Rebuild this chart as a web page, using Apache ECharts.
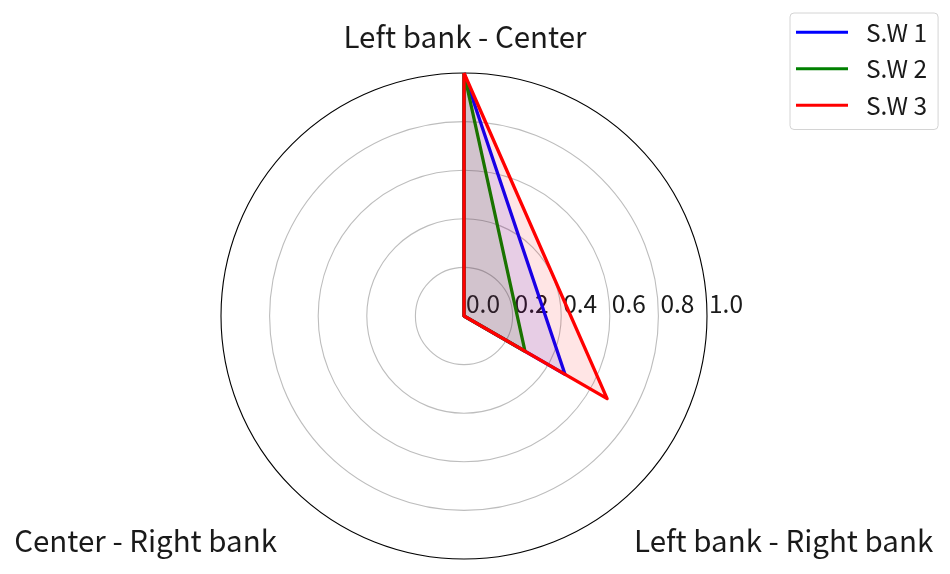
<!DOCTYPE html>
<html>
<head>
<meta charset="utf-8">
<script src="https://cdn.jsdelivr.net/npm/echarts@6/dist/echarts.min.js"></script>
<style>
html,body{margin:0;padding:0;background:#fff;}
#chart{width:950px;height:574px;}
</style>
</head>
<body>
<div id="chart"></div>
<script>
const categories = ['Left bank - Center', 'Center - Right bank', 'Left bank - Right bank'];
const seriesNames = ['S.W 1', 'S.W 2', 'S.W 3'];
const sw1 = [1.0, 0.0, 0.48];
const sw2 = [1.0, 0.0, 0.29];
const sw3 = [1.0, 0.0, 0.68];
const radialTicks = [0.0, 0.2, 0.4, 0.6, 0.8, 1.0];
const colors = ['#0000ff', '#008000', '#ff0000'];

const FONT = '"Noto Sans CJK KR", "Noto Sans", sans-serif';
const CX = 464, CY = 316, R = 243;
const NAME_FS = 29.5, TICK_FS = 24.5;

const nameKeys = ['top', 'bl', 'br'];
const chart = echarts.init(document.getElementById('chart'), null, {renderer: 'canvas'});
const values = [sw1, sw2, sw3];

const option = {
  backgroundColor: '#fff',
  animation: false,
  legend: {
    orient: 'vertical',
    left: 790, top: 13,
    padding: [7, 11, 12, 6],
    itemGap: 12,
    itemWidth: 52, itemHeight: 3,
    icon: 'rect',
    borderColor: '#d4d4d4', borderWidth: 1, borderRadius: 4,
    textStyle: {fontFamily: FONT, fontSize: TICK_FS, color: '#1a1a1a', padding: [0, 0, 0, 13], lineHeight: 24},
    data: seriesNames
  },
  radar: {
    center: [CX, CY],
    radius: R,
    startAngle: 90,
    shape: 'circle',
    splitNumber: 5,
    nameGap: -46.7,
    indicator: categories.map(c => ({name: c, min: 0, max: 1})),
    axisName: {
      color: '#1a1a1a',
      fontFamily: FONT,
      fontSize: NAME_FS,
      formatter: function (name) {
        const i = categories.indexOf(name);
        return '{' + nameKeys[i] + '|' + name + '}';
      },
      rich: {
        top: {fontFamily: FONT, fontSize: NAME_FS, color: '#1a1a1a', lineHeight: 30, padding: [0, 0, 135, 2]},
        bl: {fontFamily: FONT, fontSize: NAME_FS, color: '#1a1a1a', lineHeight: 30, padding: [254, 17, 0, 0]},
        br: {fontFamily: FONT, fontSize: NAME_FS, color: '#1a1a1a', lineHeight: 30, padding: [254, 0, 0, 0]}
      }
    },
    axisLine: {show: false},
    axisTick: {show: false},
    axisLabel: {show: false},
    splitArea: {show: false},
    splitLine: {
      lineStyle: {
        color: ['#bdbdbd', '#bdbdbd', '#bdbdbd', '#bdbdbd', '#bdbdbd', '#000000'],
        width: 1.1
      }
    }
  },
  polar: {center: [CX, CY], radius: R},
  angleAxis: {
    type: 'value', min: 0, max: 360, startAngle: 0, show: false
  },
  radiusAxis: {
    type: 'value', min: radialTicks[0], max: radialTicks[radialTicks.length - 1], interval: 0.2,
    axisLine: {show: false}, axisTick: {show: false}, splitLine: {show: false},
    axisLabel: {
      show: true, fontFamily: FONT, fontSize: TICK_FS, color: '#1a1a1a',
      align: 'left', verticalAlign: 'middle', margin: 12, padding: [0, 0, 0, 2],
      formatter: v => v.toFixed(1)
    }
  },
  series: seriesNames.map((n, i) => ({
    name: n,
    type: 'radar',
    symbol: 'none',
    z: 2 + i,
    itemStyle: {color: colors[i]},
    lineStyle: {color: colors[i], width: 3.3},
    areaStyle: {color: colors[i], opacity: 0.1},
    data: [{value: values[i], name: n}]
  }))
};
chart.setOption(option);
</script>
</body>
</html>
